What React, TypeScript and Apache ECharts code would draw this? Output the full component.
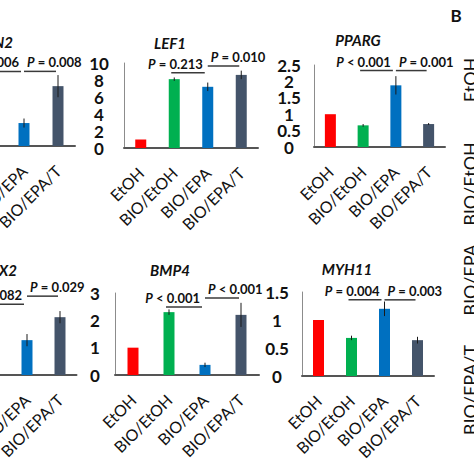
import React, { useEffect, useRef } from "react";
import * as echarts from "echarts";

const categories = ["EtOH", "BIO/EtOH", "BIO/EPA", "BIO/EPA/T"];
const barColors = ["#FF0000", "#00B050", "#0070C0", "#44546A"];

// top row
const topLeftValues = [1.0, null, 2.8, 7.3];
const topLeftErrors = [0, 0, 0.55, 1.35];
const topLeftBrackets = [
  { from: 1, to: 2, y: 9.1, label: "= 0.006" },
  { from: 2, to: 3, y: 9.1, label: "= 0.008" },
];
const lef1Values = [1.0, 8.1, 7.2, 8.6];
const lef1Errors = [0, 0.2, 0.5, 0.5];
const lef1Brackets = [
  { from: 1, to: 2, y: 8.86, label: "= 0.213" },
  { from: 2, to: 3, y: 9.65, label: "= 0.010" },
];
const ppargValues = [1.0, 0.66, 1.88, 0.7];
const ppargErrors = [0, 0.04, 0.28, 0.03];
const ppargBrackets = [
  { from: 1, to: 2, y: 2.33, label: "< 0.001" },
  { from: 2, to: 3, y: 2.33, label: "= 0.001" },
];
// bottom row
const bottomLeftValues = [1.0, null, 1.26, 2.09];
const bottomLeftErrors = [0, 0, 0.22, 0.22];
const bottomLeftBrackets = [
  { from: 1, to: 2, y: 2.56, label: "= 0.082" },
  { from: 2, to: 3, y: 2.85, label: "= 0.029" },
];
const bmp4Values = [1.0, 2.3, 0.37, 2.2];
const bmp4Errors = [0, 0.1, 0.08, 0.44];
const bmp4Brackets = [
  { from: 1, to: 2, y: 2.49, label: "< 0.001" },
  { from: 2, to: 3, y: 2.82, label: "< 0.001" },
];
const myh11Values = [1.0, 0.68, 1.2, 0.64];
const myh11Errors = [0, 0.04, 0.13, 0.06];
const myh11Brackets = [
  { from: 1, to: 2, y: 1.36, label: "= 0.004" },
  { from: 2, to: 3, y: 1.36, label: "= 0.003" },
];

const yMax = [10, 10, 2.5, 3, 3, 1.5];
const yInterval = [2, 2, 0.5, 1, 1, 0.5];
const panelTitles = ["N2", "LEF1", "PPARG", "X2", "BMP4", "MYH11"];
const sideLabels = ["EtOH", "BIO/EtOH", "BIO/EPA", "BIO/EPA/T"];

const FONT = "Lato, 'Open Sans', sans-serif";

const grids = [
  { left: -61, top: 64, width: 136, height: 82 },
  { left: 124, top: 63, width: 134, height: 85 },
  { left: 314, top: 65, width: 131, height: 82 },
  { left: -55.5, top: 292, width: 132, height: 83 },
  { left: 115, top: 293, width: 144, height: 82 },
  { left: 302, top: 292, width: 132, height: 84 },
];
const yLabelMargin = [25, 25, 25, 25, 20, 25];

const panelValues = [topLeftValues, lef1Values, ppargValues, bottomLeftValues, bmp4Values, myh11Values];
const panelErrors = [topLeftErrors, lef1Errors, ppargErrors, bottomLeftErrors, bmp4Errors, myh11Errors];
const panelBrackets = [topLeftBrackets, lef1Brackets, ppargBrackets, bottomLeftBrackets, bmp4Brackets, myh11Brackets];

function buildOption() {
  const series: any[] = [];
  panelValues.forEach((values, i) => {
    series.push({
      type: "bar",
      xAxisIndex: i,
      yAxisIndex: i,
      barWidth: 11,
      data: values.map((v, k) => ({ value: v === null ? "-" : v, itemStyle: { color: barColors[k] } })),
    });
    const errs = panelErrors[i];
    series.push({
      type: "custom",
      xAxisIndex: i,
      yAxisIndex: i,
      encode: { x: 0, y: 1 },
      data: values
        .map((v, k) => (v === null ? null : [k, v, errs[k]]))
        .filter((d) => d !== null),
      renderItem: (params: any, api: any) => {
        const x = api.value(0);
        const v = api.value(1);
        const e = api.value(2);
        if (!e) return null;
        const t = api.coord([x, v + e]);
        const b = api.coord([x, v - e]);
        return {
          type: "line",
          shape: { x1: t[0], y1: t[1], x2: b[0], y2: b[1] },
          style: { stroke: "#1a1a1a", lineWidth: 1 },
        };
      },
      z: 5,
    });
    const br = panelBrackets[i];
    series.push({
      type: "custom",
      xAxisIndex: i,
      yAxisIndex: i,
      encode: { x: 0, y: 2 },
      data: br.map((b) => [b.from, b.to, b.y]),
      renderItem: (params: any, api: any) => {
        const b = br[params.dataIndex];
        const a = api.coord([api.value(0), api.value(2)]);
        const c = api.coord([api.value(1), api.value(2)]);
        const first = params.dataIndex === 0;
        const shift = first ? -3 : 0;
        return {
          type: "group",
          children: [
            {
              type: "line",
              shape: { x1: a[0] + shift, y1: a[1], x2: c[0] + shift - (first ? 0 : 2), y2: c[1] },
              style: { stroke: "#3a3a3a", lineWidth: 1.5 },
            },
            {
              type: "text",
              x: first ? c[0] - 5 : a[0] + 3,
              y: a[1] - 9,
              style: {
                text: "{i|P}{n| " + b.label + "}",
                align: first ? "right" : "left",
                verticalAlign: "middle",
                rich: {
                  i: { fontFamily: FONT, fontSize: 13, fontWeight: "bold", fontStyle: "italic", fill: "#111" },
                  n: { fontFamily: FONT, fontSize: 13, fontWeight: "bold", fill: "#111" },
                },
              },
            },
          ],
        };
      },
      z: 6,
    });
  });

  const titlePos = [
    { x: 13, y: 42, align: "right" },
    { x: 170, y: 43, align: "center" },
    { x: 358, y: 40, align: "center" },
    { x: 17, y: 270, align: "right" },
    { x: 170, y: 270, align: "center" },
    { x: 347, y: 269, align: "center" },
  ];
  const sideY = [80, 184, 280, 390];

  const graphic: any[] = [];
  panelTitles.forEach((t, i) => {
    graphic.push({
      type: "text",
      x: titlePos[i].x,
      y: titlePos[i].y,
      style: {
        text: t,
        align: titlePos[i].align,
        verticalAlign: "middle",
        fontFamily: FONT,
        fontSize: 15,
        fontWeight: "bold",
        fontStyle: "italic",
        fill: "#111",
      },
    });
  });
  graphic.push({
    type: "text",
    x: 456,
    y: 15,
    style: { text: "B", align: "center", verticalAlign: "middle", fontFamily: FONT, fontSize: 17, fontWeight: "bold", fill: "#111" },
  });
  sideLabels.forEach((t, k) => {
    graphic.push({
      type: "text",
      x: 470,
      y: sideY[k],
      rotation: Math.PI / 2,
      style: { text: t, align: "center", verticalAlign: "middle", fontFamily: FONT, fontSize: 18, fill: "#111" },
    });
  });

  // two overlapping value axes per grid, each carrying every other tick label,
  // so that tightly spaced labels are not dropped by the overlap check
  const makeYAxis = (i: number, parity: number) => ({
    type: "value",
    gridIndex: i,
    position: "left",
    min: 0,
    max: yMax[i],
    interval: yInterval[i],
    splitLine: { show: false },
    axisTick: { show: false },
    axisLine: { show: parity === 0, lineStyle: { color: "#8c8c8c", width: 1 } },
    axisLabel: {
      margin: yLabelMargin[i],
      align: "center",
      showMinLabel: true,
      showMaxLabel: true,
      hideOverlap: false,
      formatter: (v: number) => (Math.round(v / yInterval[i]) % 2 === parity ? String(v) : ""),
      fontFamily: FONT,
      fontSize: 17,
      fontWeight: "bold",
      color: "#111",
    },
  });

  return {
    animation: false,
    backgroundColor: "#ffffff",
    grid: grids.map((g) => ({ ...g, containLabel: false, outerBoundsMode: "none" })),
    xAxis: grids.map((_, i) => ({
      type: "category",
      gridIndex: i,
      data: categories,
      axisLine: { show: true, lineStyle: { color: "#555", width: 2 } },
      axisTick: { show: false },
      axisLabel: {
        interval: 0,
        rotate: 45,
        margin: 22,
        fontFamily: FONT,
        fontSize: 16,
        color: "#111",
        hideOverlap: false,
      },
    })),
    yAxis: [...grids.map((_, i) => makeYAxis(i, 0)), ...grids.map((_, i) => makeYAxis(i, 1))],
    series,
    graphic,
  };
}

export default function App() {
  const ref = useRef<HTMLDivElement>(null);
  useEffect(() => {
    if (!ref.current) return;
    const chart = echarts.init(ref.current, undefined, { renderer: "svg" });
    chart.setOption(buildOption() as any);
    return () => chart.dispose();
  }, []);
  return (
    <div
      ref={ref}
      style={{ position: "fixed", left: 0, top: 0, width: 474, height: 474, background: "#fff" }}
    />
  );
}
